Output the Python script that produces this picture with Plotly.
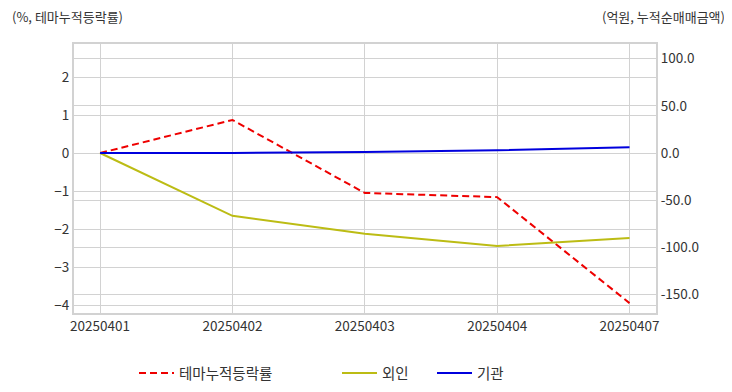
import plotly.graph_objects as go

dates = ["20250401", "20250402", "20250403", "20250404", "20250407"]
theme_ret = [0.0, 0.87, -1.05, -1.16, -3.95]
foreign = [0.0, -66.5, -85.5, -98.5, -90.0]
inst = [0.0, 0.0, 1.0, 3.0, 6.0]

FONT = "Noto Sans CJK KR, Noto Sans, sans-serif"
GRID = "#d2d2d2"
TXT = "#333333"

# the page body has an 8px default margin, so the figure is drawn 8px smaller
W, H = 724, 384
L, R, T, B = 66, 76, 36, 79
PW, PH = W - L - R, H - T - B


def px_x(fx):
    return (fx - L) / PW


def px_y(fy):
    return 1 - (fy - T) / PH


fig = go.Figure()
fig.add_trace(go.Scatter(x=dates, y=theme_ret, name="테마누적등락률", mode="lines",
                         line=dict(color="#ee0000", width=2, dash="7px,4px"),
                         yaxis="y", legend="legend"))
fig.add_trace(go.Scatter(x=dates, y=foreign, name="외인", mode="lines",
                         line=dict(color="#bcbc14", width=2),
                         yaxis="y2", legend="legend2"))
fig.add_trace(go.Scatter(x=dates, y=inst, name="기관", mode="lines",
                         line=dict(color="#0000dd", width=2),
                         yaxis="y2", legend="legend3"))

leg_common = dict(orientation="h", y=px_y(349), xanchor="left", yanchor="top", itemwidth=35,
                  bgcolor="rgba(0,0,0,0)", font=dict(size=14.5, color=TXT))

fig.update_layout(
    width=W, height=H,
    margin=dict(l=L, r=R, t=T, b=B, autoexpand=False),
    paper_bgcolor="white", plot_bgcolor="white",
    font=dict(family=FONT, size=13.5, color=TXT),
    xaxis=dict(type="category", range=[-0.197, 4.2], showgrid=True, gridcolor=GRID, gridwidth=1,
               showline=True, linecolor=GRID, linewidth=2, mirror=True, ticks="",
               tickfont=dict(size=13.5, color=TXT), zeroline=False),
    yaxis=dict(range=[-4.21, 2.87], tickvals=[-4, -3, -2, -1, 0, 1, 2], showgrid=True,
               gridcolor=GRID, gridwidth=1, zeroline=False, showline=True, linecolor=GRID,
               linewidth=2, ticks="", tickfont=dict(size=13.5, color=TXT)),
    yaxis2=dict(range=[-169.5, 115.5], tickvals=[-150, -100, -50, 0, 50, 100],
                ticktext=["-150.0", "-100.0", "-50.0", "0.0", "50.0", "100.0"],
                overlaying="y", side="right", showgrid=True, gridcolor=GRID, gridwidth=1,
                zeroline=False, showline=True, linecolor=GRID, linewidth=2, ticks="",
                tickfont=dict(size=13.5, color=TXT)),
    legend=dict(x=px_x(126), **leg_common),
    legend2=dict(x=px_x(329), **leg_common),
    legend3=dict(x=px_x(424), **leg_common),
    showlegend=True,
    annotations=[
        dict(text="(%, 테마누적등락률)", xref="paper", yref="paper", x=px_x(2), y=px_y(8),
             xanchor="left", yanchor="middle", showarrow=False, font=dict(size=13, color=TXT)),
        dict(text="(억원, 누적순매매금액)", xref="paper", yref="paper", x=px_x(719), y=px_y(8),
             xanchor="right", yanchor="middle", showarrow=False, font=dict(size=13, color=TXT)),
    ],
)

fig.write_html("out.html")
